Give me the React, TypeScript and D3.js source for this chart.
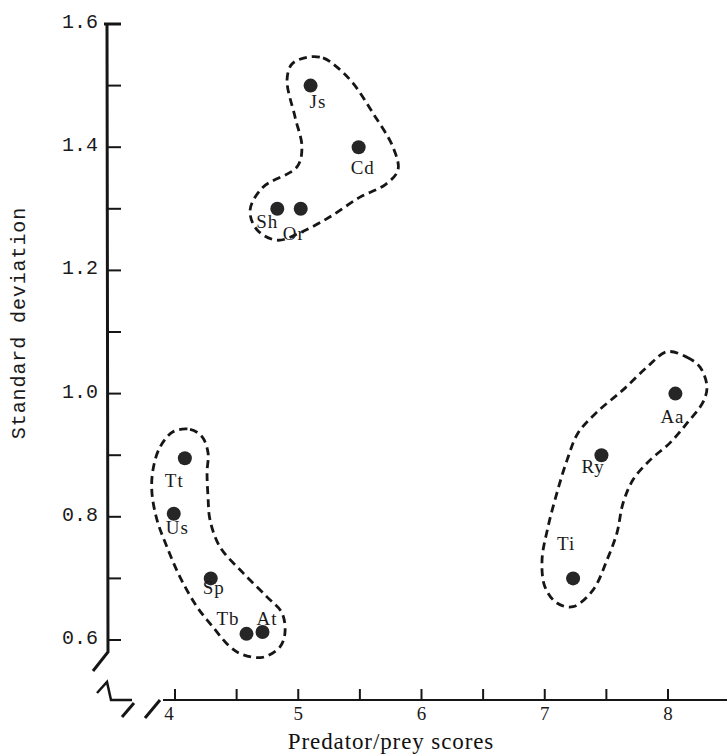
import * as d3 from "d3";

// species scores
const species = ["Js", "Cd", "Sh", "Or", "Tt", "Us", "Sp", "Tb", "At", "Aa", "Ry", "Ti"];
const predatorPrey = [5.1, 5.49, 4.83, 5.02, 4.08, 3.99, 4.29, 4.58, 4.71, 8.06, 7.46, 7.23];
const stdDev = [1.5, 1.4, 1.3, 1.3, 0.895, 0.805, 0.7, 0.61, 0.613, 1.0, 0.9, 0.7];

// dashed group outlines (data units)
const groupTopX = [5.071, 5.201, 5.314, 5.444, 5.607, 5.769, 5.809, 5.704, 5.501, 5.258, 5.014, 4.828, 4.665, 4.609, 4.714, 4.99, 5.03, 4.974, 4.909, 4.949];
const groupTopY = [1.546, 1.545, 1.53, 1.504, 1.455, 1.4, 1.363, 1.339, 1.319, 1.287, 1.261, 1.249, 1.266, 1.298, 1.335, 1.368, 1.4, 1.449, 1.509, 1.535];
const groupLeftX = [3.984, 4.122, 4.219, 4.268, 4.26, 4.268, 4.284, 4.365, 4.552, 4.746, 4.868, 4.892, 4.852, 4.714, 4.552, 4.446, 4.308, 4.178, 4.041, 3.935, 3.854, 3.813, 3.821, 3.878];
const groupLeftY = [0.938, 0.942, 0.93, 0.904, 0.872, 0.832, 0.795, 0.751, 0.709, 0.67, 0.644, 0.611, 0.589, 0.572, 0.576, 0.589, 0.621, 0.654, 0.702, 0.751, 0.795, 0.839, 0.876, 0.913];
const groupRightX = [7.992, 8.154, 8.26, 8.316, 8.284, 8.154, 8.016, 7.854, 7.716, 7.635, 7.586, 7.505, 7.391, 7.229, 7.099, 7.002, 6.978, 7.026, 7.099, 7.181, 7.27, 7.424, 7.635, 7.83];
const groupRightY = [1.068, 1.059, 1.043, 1.011, 0.986, 0.952, 0.92, 0.892, 0.86, 0.822, 0.774, 0.73, 0.681, 0.654, 0.66, 0.686, 0.73, 0.783, 0.839, 0.892, 0.936, 0.97, 1.006, 1.043];

const xTicks = [4, 4.5, 5, 5.5, 6, 6.5, 7, 7.5, 8];
const xTickLabels = ["4", "", "5", "", "6", "", "7", "", "8"];
const yTicks = [1.6, 1.5, 1.4, 1.3, 1.2, 1.1, 1.0, 0.9, 0.8, 0.7, 0.6];
const yTickLabels = ["1.6", "", "1.4", "", "1.2", "", "1.0", "", "0.8", "", "0.6"];

// label placement relative to each dot, px
const labelOffset: Record<string, [number, number]> = {
  Js: [-1, 22], Cd: [-8, 27], Sh: [-21, 19], Or: [-18, 31],
  Tt: [-20, 29], Us: [-8, 20], Sp: [-8, 16], Tb: [-30, -9], At: [-6, -7],
  Aa: [-15, 29], Ry: [-20, 18], Ti: [-16, -28],
};

const W = 727;
const H = 756;

const x = d3.scaleLinear().domain([4, 8]).range([175, 668]);
const y = d3.scaleLinear().domain([0.6, 1.6]).range([640, 24]);

const outline = d3
  .line<[number, number]>()
  .x((d) => x(d[0]))
  .y((d) => y(d[1]))
  .curve(d3.curveCatmullRomClosed.alpha(0.5));

const groups = [
  groupTopX.map((v, i) => [v, groupTopY[i]] as [number, number]),
  groupLeftX.map((v, i) => [v, groupLeftY[i]] as [number, number]),
  groupRightX.map((v, i) => [v, groupRightY[i]] as [number, number]),
];

const ink = "#161616";

export default function App() {
  const axisX = x(4) - 68;
  const baseY = 700;
  return (
    <svg width={W} height={H} style={{ position: "absolute", left: 0, top: 0, background: "#fff" }}>
      {/* y axis with bottom break */}
      <path d={`M${axisX},${y(1.6)} L${axisX + 1},652 L${axisX - 14},671`} fill="none" stroke={ink} strokeWidth={3} />
      {yTicks.map((t, i) => (
        <g key={`yt${i}`}>
          <line x1={axisX - (i === 0 ? 3 : 0)} x2={axisX + 14} y1={y(t)} y2={y(t)} stroke={ink} strokeWidth={i === 0 ? 3 : 2} />
          {yTickLabels[i] && (
            <text x={axisX - 9} y={y(t) + 4} textAnchor="end" fontFamily="Liberation Mono" fontSize={20} fill="#1a1a1a">
              {yTickLabels[i]}
            </text>
          )}
        </g>
      ))}
      <text
        transform={`translate(25,${323}) rotate(-90)`}
        textAnchor="middle"
        fontFamily="Liberation Mono"
        fontSize={20}
        letterSpacing={0.9}
        fill="#1a1a1a"
      >
        Standard deviation
      </text>

      {/* x axis with break marks */}
      <line x1={163} x2={W} y1={baseY} y2={baseY} stroke={ink} strokeWidth={2.2} />
      <path d="M97,693 L107,682 L111,700 L132,700" fill="none" stroke={ink} strokeWidth={2.5} />
      <path d="M122,717 L134,703 M145,718 L160,700" fill="none" stroke={ink} strokeWidth={3} />
      {xTicks.map((t, i) => (
        <g key={`xt${i}`}>
          <line x1={x(t)} x2={x(t)} y1={baseY} y2={baseY - 11} stroke={ink} strokeWidth={2} />
          {xTickLabels[i] && (
            <text x={x(t) - (i === 0 ? 6 : 0)} y={720} textAnchor="middle" fontFamily="Liberation Serif" fontSize={19} fill="#1a1a1a">
              {xTickLabels[i]}
            </text>
          )}
        </g>
      ))}
      <text x={391} y={749} textAnchor="middle" fontFamily="Liberation Serif" fontSize={23} letterSpacing={0.9} fill="#111">
        Predator/prey scores
      </text>

      {/* group outlines */}
      {groups.map((g, i) => (
        <path key={`g${i}`} d={outline(g) ?? ""} fill="none" stroke={ink} strokeWidth={2.8} strokeDasharray="8 5" />
      ))}

      {/* points and labels */}
      {species.map((s, i) => {
        const px = x(predatorPrey[i]);
        const py = y(stdDev[i]);
        const [dx, dy] = labelOffset[s];
        return (
          <g key={s}>
            <circle cx={px} cy={py} r={7} fill="#262626" />
            <text x={px + dx} y={py + dy} fontFamily="Liberation Serif" fontSize={19} letterSpacing={1} fill="#1a1a1a">
              {s}
            </text>
          </g>
        );
      })}
    </svg>
  );
}
